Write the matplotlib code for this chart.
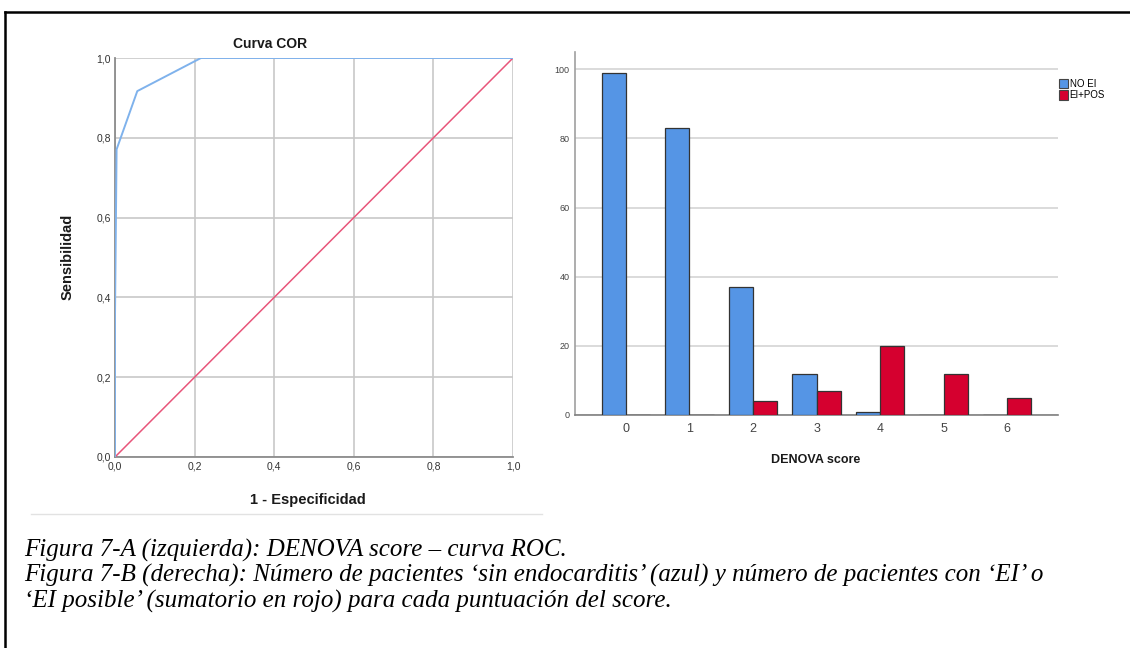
"""
Figura 7: curva COR del DENOVA score y distribución de pacientes por puntuación.
"""

import numpy as np
import matplotlib
matplotlib.use("Agg")
import matplotlib.pyplot as plt
from matplotlib.lines import Line2D
from matplotlib.patches import Patch

# Curva COR (1 - especificidad, sensibilidad)
roc_fpr = [0.0, 0.0, 0.0, 0.004, 0.056, 0.216, 0.573, 1.0]
roc_tpr = [0.0, 0.104, 0.354, 0.771, 0.917, 1.0, 1.0, 1.0]
roc_ticks = [0.0, 0.2, 0.4, 0.6, 0.8, 1.0]

# Barras por puntuación
scores = [0, 1, 2, 3, 4, 5, 6]
no_ei = [99, 83, 37, 12, 1, 0, 0]
ei_pos = [0, 0, 4, 7, 20, 12, 5]
bar_yticks = [0, 20, 40, 60, 80, 100]

caption_lines = [
    "Figura 7-A (izquierda): DENOVA score \u2013 curva ROC.",
    "Figura 7-B (derecha): N\u00famero de pacientes \u2018sin endocarditis\u2019 (azul) "
    "y n\u00famero de pacientes con \u2018EI\u2019 o",
    "\u2018EI posible\u2019 (sumatorio en rojo) para cada puntuaci\u00f3n del score.",
]

W, H = 1130, 648
fig = plt.figure(figsize=(W / 100, H / 100), dpi=100)
plt.rcParams["font.family"] = ["Liberation Sans", "DejaVu Sans"]


def fx(px):
    return px / W


def fy(py):
    return 1 - py / H


# --- Curva COR ---
ax1 = fig.add_axes([fx(115), fy(457), fx(513) - fx(115), fy(58) - fy(457)])
ax1.plot([0, 1], [0, 1], color="#E8557A", lw=1.1, zorder=3)
ax1.plot(roc_fpr, roc_tpr, color="#7FB2EC", lw=1.4, zorder=4)
ax1.set_xlim(0, 1)
ax1.set_ylim(0, 1)
ax1.set_xticks(roc_ticks)
ax1.set_yticks(roc_ticks)
ax1.set_xticklabels([f"{t:.1f}".replace(".", ",") for t in roc_ticks])
ax1.set_yticklabels([f"{t:.1f}".replace(".", ",") for t in roc_ticks])
ax1.tick_params(length=0, labelsize=7.5, labelcolor="#333333", pad=3)
ax1.grid(True, color="#C8C8C8", lw=1.2)
ax1.set_axisbelow(True)
for side in ["top", "right"]:
    ax1.spines[side].set_visible(False)
for side in ["left", "bottom"]:
    ax1.spines[side].set_color("#8C8C8C")
    ax1.spines[side].set_linewidth(1.3)
fig.text(fx(270), fy(44), "Curva COR", ha="center", va="center",
         fontsize=10, fontweight="bold", color="#1a1a1a")
fig.text(fx(308), fy(500), "1 - Especificidad", ha="center", va="center",
         fontsize=10.5, fontweight="bold", color="#1a1a1a")
fig.text(fx(68), fy(257), "Sensibilidad", ha="center", va="center",
         rotation=90, fontsize=10.5, fontweight="bold", color="#1a1a1a")
fig.add_artist(Line2D([fx(31), fx(542)], [fy(514), fy(514)],
                      color="#E2E2E2", lw=1.0))

# --- Barras ---
ax2 = fig.add_axes([fx(575), fy(415), fx(1058) - fx(575), fy(52) - fy(415)])
x = np.array(scores)
bw = 0.38
ax2.bar(x - bw / 2, no_ei, width=bw, color="#5595E5", edgecolor="#333333",
        linewidth=0.9, zorder=3, label="NO EI")
ax2.bar(x + bw / 2, ei_pos, width=bw, color="#D5002F", edgecolor="#333333",
        linewidth=0.9, zorder=3, label="EI+POS")
ax2.set_xlim(-0.8, 6.8)
ax2.set_ylim(0, 105)
ax2.set_xticks(scores)
ax2.set_yticks(bar_yticks)
ax2.tick_params(axis="x", length=0, labelsize=9, labelcolor="#444444", pad=6)
ax2.tick_params(axis="y", length=0, labelsize=6.5, labelcolor="#444444", pad=4)
ax2.yaxis.grid(True, color="#D4D4D4", lw=1.2)
ax2.set_axisbelow(True)
for side in ["top", "right"]:
    ax2.spines[side].set_visible(False)
ax2.spines["left"].set_color("#A0A0A0")
ax2.spines["bottom"].set_color("#808080")
ax2.spines["left"].set_linewidth(1.2)
ax2.spines["bottom"].set_linewidth(1.2)
fig.text(fx(816), fy(460), "DENOVA score", ha="center", va="center",
         fontsize=9, fontweight="bold", color="#1a1a1a")

handles = [Patch(facecolor="#5595E5", edgecolor="#444444", lw=0.8, label="NO EI"),
           Patch(facecolor="#D5002F", edgecolor="#444444", lw=0.8, label="EI+POS")]
fig.legend(handles=handles, loc="upper left",
           bbox_to_anchor=(fx(1057), fy(77)), frameon=False, fontsize=7,
           handlelength=0.9, handleheight=1.1, handletextpad=0.2,
           labelspacing=0.15, borderpad=0.2, borderaxespad=0)

# --- Marco y pie de figura ---
fig.add_artist(Line2D([fx(5), 1], [fy(12), fy(12)], color="black", lw=1.8))
fig.add_artist(Line2D([fx(5), fx(5)], [fy(12), 0], color="black", lw=1.8))
for i, line in enumerate(caption_lines):
    fig.text(fx(24), fy(550 + 25.5 * i), line, ha="left", va="center",
             fontsize=18, style="italic", family="Liberation Serif",
             color="black")

fig.savefig("out.png", dpi=100)
